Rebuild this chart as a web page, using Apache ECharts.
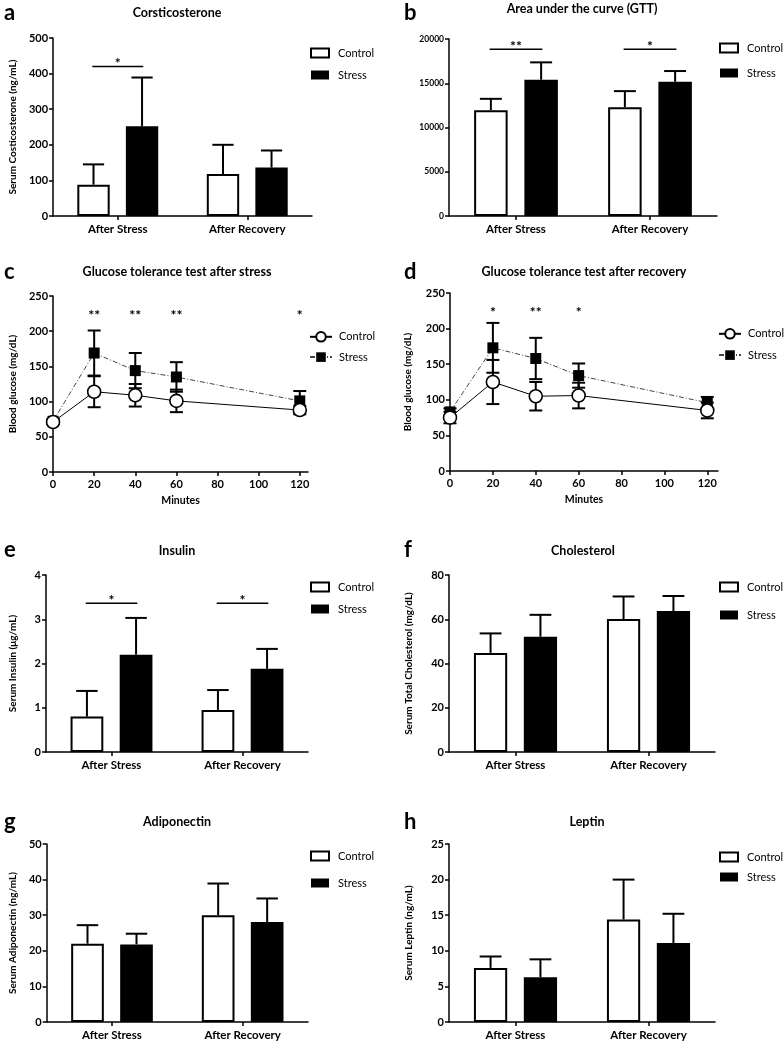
<!DOCTYPE html>
<html>
<head>
<meta charset="utf-8">
<script src="https://cdn.jsdelivr.net/npm/echarts@6/dist/echarts.min.js"></script>
<style>
  html, body { margin: 0; padding: 0; background: #fff; }
  .p { position: absolute; }
</style>
</head>
<body>
<div id="pa" class="p" style="left:0;top:0;width:392px;height:235px"></div>
<div id="pb" class="p" style="left:392px;top:0;width:392px;height:235px"></div>
<div id="pc" class="p" style="left:0;top:235px;width:392px;height:280px"></div>
<div id="pd" class="p" style="left:392px;top:235px;width:392px;height:280px"></div>
<div id="pe" class="p" style="left:0;top:515px;width:392px;height:260px"></div>
<div id="pf" class="p" style="left:392px;top:515px;width:392px;height:260px"></div>
<div id="pg" class="p" style="left:0;top:775px;width:392px;height:268px"></div>
<div id="ph" class="p" style="left:392px;top:775px;width:392px;height:268px"></div>
<script>
// ---------------- DATA ----------------
const categories = ['After Stress', 'After Recovery'];
const seriesNames = ['Control', 'Stress'];

// a: Corticosterone (ng/mL)
const corticoControl = [88, 118];
const corticoControlSD = [57, 82];
const corticoStress = [252, 136];
const corticoStressSD = [137, 48];
const corticoTicks = [0, 100, 200, 300, 400, 500];

// b: AUC (GTT)
const aucControl = [11960, 12300];
const aucControlSD = [1280, 1810];
const aucStress = [15400, 15170];
const aucStressSD = [1960, 1210];
const aucTicks = [0, 5000, 10000, 15000, 20000];

// c: GTT after stress (mg/dL)
const minutes = [0, 20, 40, 60, 120];
const minuteTicks = [0, 20, 40, 60, 80, 100, 120];
const gttSControl = [71, 114, 109, 101, 88];
const gttSControlSD = [3, 22, 16, 16, 6];
const gttSStress = [72, 169, 144, 135, 101];
const gttSStressSD = [3, 32, 25, 21, 14];
const gttSStars = ['**', '**', '**', '*'];
const gttSStarMinutes = [20, 40, 60, 120];

// d: GTT after recovery (mg/dL)
const gttRControl = [75, 125, 105, 106, 85];
const gttRControlSD = [8, 31, 20, 18, 11];
const gttRStress = [83, 173, 158, 134, 96];
const gttRStressSD = [5, 35, 29, 17, 8];
const gttRStars = ['*', '**', '*'];
const gttRStarMinutes = [20, 40, 60];

// e: Insulin (ug/mL)
const insulinControl = [0.80, 0.95];
const insulinControlSD = [0.58, 0.45];
const insulinStress = [2.20, 1.88];
const insulinStressSD = [0.83, 0.45];

// f: Cholesterol (mg/dL)
const cholControl = [44.8, 60.1];
const cholControlSD = [8.8, 10.2];
const cholStress = [52.1, 63.7];
const cholStressSD = [9.9, 6.8];

// g: Adiponectin (ng/mL)
const adipoControl = [22.0, 30.0];
const adipoControlSD = [5.2, 8.9];
const adipoStress = [21.8, 28.1];
const adipoStressSD = [3.0, 6.6];

// h: Leptin (ng/mL)
const leptinControl = [7.6, 14.4];
const leptinControlSD = [1.6, 5.6];
const leptinStress = [6.3, 11.1];
const leptinStressSD = [2.5, 4.1];

// significance annotations
const corticoSig = [[0, 420, '*']];
const aucSig = [[0, 18830, '**'], [1, 18830, '*']];
const insulinSig = [[0, 3.36, '*'], [1, 3.36, '*']];

// ---------------- HELPERS ----------------
const FONT = 'Lato';
const BLACK = '#000';

function seg(x1, y1, x2, y2, w) {
  return { type: 'line', shape: { x1, y1, x2, y2 }, style: { stroke: BLACK, lineWidth: w || 2 } };
}

function headerGraphics(letter, lx, ly, title, tx, ty) {
  return [
    { type: 'text', x: lx, y: ly, style: { text: letter, fill: BLACK, font: 'bold 22px ' + FONT, textAlign: 'left', textVerticalAlign: 'middle' } },
    { type: 'text', x: tx, y: ty, style: { text: title, fill: BLACK, font: 'bold 12.5px ' + FONT, textAlign: 'center', textVerticalAlign: 'middle' } }
  ];
}

function axisCommon() {
  return {
    axisLine: { show: true, lineStyle: { color: BLACK, width: 1.5 } },
    axisTick: { show: true, inside: false, length: 4, lineStyle: { color: BLACK, width: 1.5 } },
    splitLine: { show: false }
  };
}

function barErr(offset, vals, sds) {
  return {
    type: 'custom', z: 3, silent: true,
    data: vals.map((v, i) => [i, v, v + sds[i]]),
    encode: { x: 0, y: [1, 2] },
    renderItem: (params, api) => {
      const band = api.size([1, 0])[0];
      const cx = api.coord([api.value(0), 0])[0] + offset * band;
      const y1 = api.coord([api.value(0), api.value(1)])[1];
      const y2 = api.coord([api.value(0), api.value(2)])[1];
      const cap = band * 0.082;
      return { type: 'group', children: [seg(cx, y1, cx, y2), seg(cx - cap, y2, cx + cap, y2)] };
    }
  };
}

function bracketSeries(sig) {
  return {
    type: 'custom', z: 3, silent: true,
    data: sig.map(s => [s[0], s[1]]),
    encode: { x: 0, y: 1 },
    renderItem: (params, api) => {
      const band = api.size([1, 0])[0];
      const p = api.coord([api.value(0), api.value(1)]);
      const half = band * 0.197;
      return { type: 'group', children: [
        seg(p[0] - half, p[1], p[0] + half, p[1], 1.5),
        { type: 'text', x: p[0], y: p[1] - 3, style: { text: sig[params.dataIndex][2], fill: BLACK, font: 'bold 14px ' + FONT, textAlign: 'center', textVerticalAlign: 'middle' } }
      ] };
    }
  };
}

function lineErr(xs, means, sds) {
  return {
    type: 'custom', z: 1, silent: true,
    data: xs.map((x, i) => [x, means[i] - sds[i], means[i] + sds[i]]),
    encode: { x: 0, y: [1, 2] },
    renderItem: (params, api) => {
      const lo = api.coord([api.value(0), api.value(1)]);
      const hi = api.coord([api.value(0), api.value(2)]);
      const c = 6.5;
      return { type: 'group', children: [
        seg(lo[0], lo[1], hi[0], hi[1]),
        seg(lo[0] - c, lo[1], lo[0] + c, lo[1]),
        seg(hi[0] - c, hi[1], hi[0] + c, hi[1])
      ] };
    }
  };
}

function starSeries(xs, labels, level) {
  return {
    type: 'custom', z: 3, silent: true,
    data: xs.map(x => [x, level]),
    encode: { x: 0, y: 1 },
    renderItem: (params, api) => {
      const p = api.coord([api.value(0), api.value(1)]);
      return { type: 'text', x: p[0], y: p[1] + 3, style: { text: labels[params.dataIndex], fill: BLACK, font: 'bold 14px ' + FONT, textAlign: 'center', textVerticalAlign: 'middle' } };
    }
  };
}

function barPanel(id, c) {
  const chart = echarts.init(document.getElementById(id));
  const yAx = Object.assign(axisCommon(), {
    type: 'value', min: 0, max: c.ticks[c.ticks.length - 1], interval: c.ticks[1] - c.ticks[0],
    axisLabel: { color: BLACK, fontFamily: FONT, fontWeight: 'bold', fontSize: c.tickFont || 11, margin: 5,
      formatter: v => String(v) },
    name: c.yName || '', nameLocation: 'middle', nameGap: c.nameGap || 30,
    nameTextStyle: { color: BLACK, fontFamily: FONT, fontWeight: 'bold', fontSize: 10 }
  });
  const xAx = Object.assign(axisCommon(), {
    type: 'category', data: categories,
    axisTick: { show: true, alignWithLabel: true, length: 4, lineStyle: { color: BLACK, width: 1.5 } },
    axisLabel: { color: BLACK, fontFamily: FONT, fontWeight: 'bold', fontSize: 11.5, margin: 7 }
  });
  const series = [
    { name: seriesNames[0], type: 'bar', data: c.control, barWidth: '25%', barGap: '50%', z: 2,
      itemStyle: { color: '#fff', borderColor: BLACK, borderWidth: 2 } },
    { name: seriesNames[1], type: 'bar', data: c.stress, barWidth: '25%', barGap: '50%', z: 2,
      itemStyle: { color: BLACK, borderColor: BLACK, borderWidth: 0 } },
    barErr(-0.1875, c.control, c.controlSD),
    barErr(0.1875, c.stress, c.stressSD)
  ];
  if (c.sig) series.push(bracketSeries(c.sig));
  chart.setOption({
    animation: false,
    textStyle: { fontFamily: FONT },
    grid: { left: c.grid[0], top: c.grid[1], width: c.grid[2], height: c.grid[3] },
    graphic: headerGraphics(c.letter, c.lpos[0], c.lpos[1], c.title, c.tpos[0], c.tpos[1]),
    legend: {
      data: seriesNames, orient: 'vertical', left: c.legend[0], top: c.legend[1], itemGap: c.legend[2],
      padding: 0, itemWidth: 18, itemHeight: 9, icon: 'rect', selectedMode: false,
      textStyle: { color: BLACK, fontFamily: FONT, fontSize: 11, padding: [0, 0, 0, 4] }
    },
    xAxis: xAx, yAxis: yAx, series
  });
}

function linePanel(id, c) {
  const chart = echarts.init(document.getElementById(id));
  const yAx = Object.assign(axisCommon(), {
    type: 'value', min: 0, max: 250, interval: 50,
    axisLabel: { color: BLACK, fontFamily: FONT, fontWeight: 'bold', fontSize: 11, margin: 5 },
    name: 'Blood glucose (mg/dL)', nameLocation: 'middle', nameGap: c.nameGap,
    nameTextStyle: { color: BLACK, fontFamily: FONT, fontWeight: 'bold', fontSize: 10 }
  });
  const xAx = Object.assign(axisCommon(), {
    type: 'value', min: 0, max: c.xMax,
    axisTick: { show: true, length: 4, customValues: minuteTicks, lineStyle: { color: BLACK, width: 1.5 } },
    axisLabel: { color: BLACK, fontFamily: FONT, fontWeight: 'bold', fontSize: 11, margin: 7, customValues: minuteTicks },
    name: 'Minutes', nameLocation: 'middle', nameGap: 23,
    nameTextStyle: { color: BLACK, fontFamily: FONT, fontWeight: 'bold', fontSize: 10.5 }
  });
  chart.setOption({
    animation: false,
    textStyle: { fontFamily: FONT },
    grid: { left: c.grid[0], top: c.grid[1], width: c.grid[2], height: c.grid[3] },
    graphic: headerGraphics(c.letter, c.lpos[0], c.lpos[1], c.title, c.tpos[0], c.tpos[1]),
    legend: {
      data: seriesNames, orient: 'vertical', left: c.legend[0], top: c.legend[1], itemGap: c.legend[2],
      padding: 0, itemWidth: 22, itemHeight: 12, selectedMode: false,
      textStyle: { color: BLACK, fontFamily: FONT, fontSize: 11, padding: [0, 0, 0, 2] }
    },
    xAxis: xAx, yAxis: yAx,
    series: [
      lineErr(minutes, c.control, c.controlSD),
      lineErr(minutes, c.stress, c.stressSD),
      { name: seriesNames[1], type: 'line', z: 2, data: minutes.map((m, i) => [m, c.stress[i]]),
        symbol: 'rect', symbolSize: 11, itemStyle: { color: BLACK },
        lineStyle: { color: '#444', width: 1, type: [5, 2, 1, 2] } },
      { name: seriesNames[0], type: 'line', z: 3, data: minutes.map((m, i) => [m, c.control[i]]),
        symbol: 'circle', symbolSize: 13, itemStyle: { color: '#fff', borderColor: BLACK, borderWidth: 1.6 },
        lineStyle: { color: BLACK, width: 1 } },
      starSeries(c.starX, c.stars, 227)
    ]
  });
}

// ---------------- PANELS ----------------
barPanel('pa', {
  letter: 'a', lpos: [4, 13], title: 'Corsticosterone', tpos: [177, 13],
  grid: [43, 38, 269, 178], ticks: corticoTicks,
  yName: 'Serum Costicosterone (ng/mL)', nameGap: 28,
  control: corticoControl, controlSD: corticoControlSD, stress: corticoStress, stressSD: corticoStressSD,
  sig: corticoSig, legend: [310, 47.5, 11]
});
barPanel('pb', {
  letter: 'b', lpos: [12, 13], title: 'Area under the curve (GTT)', tpos: [190, 9],
  grid: [57, 39, 268, 177], ticks: aucTicks, tickFont: 8.5,
  control: aucControl, controlSD: aucControlSD, stress: aucStress, stressSD: aucStressSD,
  sig: aucSig, legend: [327, 42.5, 14]
});
linePanel('pc', {
  letter: 'c', lpos: [4, 37], title: 'Glucose tolerance test after stress', tpos: [177, 37],
  grid: [44, 61, 264, 176], xMax: 124, nameGap: 29,
  control: gttSControl, controlSD: gttSControlSD, stress: gttSStress, stressSD: gttSStressSD,
  stars: gttSStars, starX: gttSStarMinutes, legend: [309, 96, 9]
});
linePanel('pd', {
  letter: 'd', lpos: [12, 37], title: 'Glucose tolerance test after recovery', tpos: [192, 37],
  grid: [58, 58, 268, 178], xMax: 125, nameGap: 37,
  control: gttRControl, controlSD: gttRControlSD, stress: gttRStress, stressSD: gttRStressSD,
  stars: gttRStars, starX: gttRStarMinutes, legend: [326, 93, 10]
});
barPanel('pe', {
  letter: 'e', lpos: [4, 35], title: 'Insulin', tpos: [177, 36],
  grid: [43, 60, 265, 177], ticks: [0, 1, 2, 3, 4],
  yName: 'Serum Insulin (\u03bcg/mL)', nameGap: 28,
  control: insulinControl, controlSD: insulinControlSD, stress: insulinStress, stressSD: insulinStressSD,
  sig: insulinSig, legend: [310, 66.5, 11]
});
barPanel('pf', {
  letter: 'f', lpos: [12, 35], title: 'Cholesterol', tpos: [191, 36],
  grid: [57, 60, 266, 177], ticks: [0, 20, 40, 60, 80],
  yName: 'Serum Total Cholesterol (mg/dL)', nameGap: 35,
  control: cholControl, controlSD: cholControlSD, stress: cholStress, stressSD: cholStressSD,
  legend: [327, 66.5, 17]
});
barPanel('pg', {
  letter: 'g', lpos: [4, 47], title: 'Adiponectin', tpos: [177, 47],
  grid: [43, 69, 265, 178], ticks: [0, 10, 20, 30, 40, 50],
  yName: 'Serum Adiponectin (ng/mL)', nameGap: 28,
  control: adipoControl, controlSD: adipoControlSD, stress: adipoStress, stressSD: adipoStressSD,
  legend: [310, 75.5, 16]
});
barPanel('ph', {
  letter: 'h', lpos: [12, 47], title: 'Leptin', tpos: [195, 47],
  grid: [57, 69, 266, 178], ticks: [0, 5, 10, 15, 20, 25],
  yName: 'Serum Leptin (ng/mL)', nameGap: 35,
  control: leptinControl, controlSD: leptinControlSD, stress: leptinStress, stressSD: leptinStressSD,
  legend: [327, 76.5, 9]
});
</script>
</body>
</html>
